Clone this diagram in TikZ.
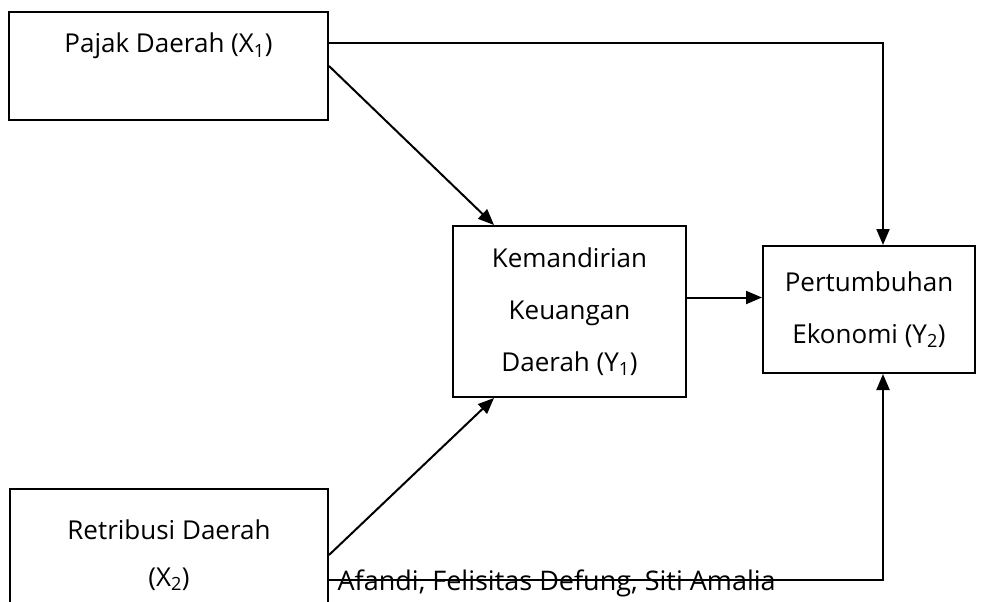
\documentclass[tikz,border=0pt]{standalone}
\usepackage{fontspec}
\setmainfont{Open Sans}
\usetikzlibrary{arrows.meta,calc}

\begin{document}
\begin{tikzpicture}[x=1pt,y=-1pt,
  box/.style={draw,line width=2pt,inner sep=0pt,align=center,
    font=\fontsize{26}{52}\selectfont},
  arr/.style={line width=2pt,-{Triangle[length=16pt,width=13pt]}}]
\useasboundingbox (0,0) rectangle (986,602);

% the four boxes
\node[box,minimum width=319pt,minimum height=108pt] (pajak) at (168.5,66) {};
\node[font=\fontsize{26}{52}\selectfont] (pajaktxt) at ([yshift=-35pt]pajak.north)
  {Pajak Daerah (X\textsubscript{1})};
\node[box,minimum width=233pt,minimum height=171pt] (kem) at (569.5,311.5)
  {Kemandirian\\Keuangan\\Daerah (Y\textsubscript{1})};
\node[box,minimum width=212pt,minimum height=127pt] (pert) at (869,309.5)
  {Pertumbuhan\\Ekonomi (Y\textsubscript{2})};
\node[box,minimum width=318pt,minimum height=132pt] (retri) at (169,555)
  {Retribusi Daerah\\[-5pt](X\textsubscript{2})};

% connectors
\draw[arr] (pajak.east) -- ([xshift=42pt]kem.north west);
\draw[arr] (retri.east) -- ([xshift=42pt]kem.south west);
\draw[arr] ($(kem.east)+(0,-14)$) -- ($(kem.east -| pert.west)+(0,-14)$);
\draw[arr] ([yshift=23pt]pajak.east) -| ([xshift=121pt]pert.north west);
\draw[arr] ([yshift=-25pt]retri.east) -| ([xshift=121pt]pert.south west);

\node[anchor=west,font=\fontsize{27}{30}\selectfont] (author) at (334,583)
  {Afandi, Felisitas Defung, Siti Amalia};
\end{tikzpicture}
\end{document}
